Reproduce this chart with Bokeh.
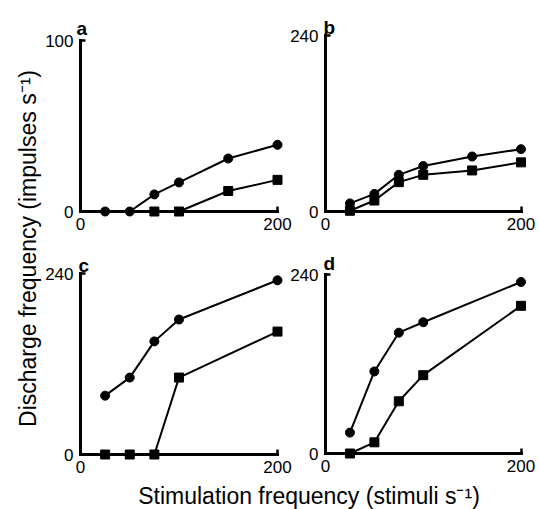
import math
from bokeh.plotting import figure
from bokeh.models import Range1d, LinearAxis, FixedTicker, Label
from bokeh.embed import file_html
from bokeh.resources import INLINE

# ---------------- data ----------------
panels = ["a", "b", "c", "d"]
y_tops = [100, 240, 240, 240]
x_ticks = [0, 200]

a_circle_x = [25, 50, 75, 100, 150, 200]
a_circle_y = [0, 0, 10, 17, 31, 39]
a_square_x = [75, 100, 150, 200]
a_square_y = [0, 0, 12, 18.5]

b_circle_x = [25, 50, 75, 100, 150, 200]
b_circle_y = [11, 24, 50, 62, 75, 85]
b_square_x = [25, 50, 75, 100, 150, 200]
b_square_y = [1, 15, 40, 50, 56, 67]

c_circle_x = [25, 50, 75, 100, 200]
c_circle_y = [78, 102, 150, 179, 231]
c_square_x = [25, 50, 75, 100, 200]
c_square_y = [0, 0, 0, 102, 163]

d_circle_x = [25, 50, 75, 100, 200]
d_circle_y = [28, 110, 162, 176, 230]
d_square_x = [25, 50, 75, 100, 200]
d_square_y = [0, 15, 70, 105, 198]

x_title = "Stimulation frequency (stimuli s\u207b\u00b9)"
y_title = "Discharge frequency (impulses s\u207b\u00b9)"

# ---------------- layout (page pixel positions) ----------------
W, H = 539, 509
PAGE_L, PAGE_T = 0, 0
PAGE_R, PAGE_B = PAGE_L + W, PAGE_T + H

# x mapping per column: (page px of x=0, page px of x=200)
col_px = {"left": (80, 277), "right": (325, 520.5)}
# y mapping per panel: (page px of y=0, page px of y=top)
row_px = {"a": (211, 40), "b": (211, 35), "c": (454, 273), "d": (453, 274)}
panel_col = {"a": "left", "b": "right", "c": "left", "d": "right"}
letter_off = {"a": (-4, 12), "b": (-2, 8), "c": (-2, 8), "d": (-2, 11)}

FONT = "Liberation Sans"


def xval(col, px):
    p0, p1 = col_px[col]
    return (px - p0) / (p1 - p0) * 200.0


def yval(name, px):
    top = y_tops[panels.index(name)]
    p0, p1 = row_px[name]
    return (px - p0) / (p1 - p0) * top


x_ranges = {c: Range1d(start=xval(c, PAGE_L), end=xval(c, PAGE_R)) for c in col_px}
y_ranges = {n: Range1d(start=yval(n, PAGE_B), end=yval(n, PAGE_T)) for n in panels}

p = figure(width=W, height=H, output_backend="svg", toolbar_location=None,
           x_axis_location=None, y_axis_location=None,
           x_range=Range1d(start=x_ranges["left"].start, end=x_ranges["left"].end),
           y_range=Range1d(start=y_ranges["a"].start, end=y_ranges["a"].end),
           min_border=0)
p.extra_x_ranges = x_ranges
p.extra_y_ranges = y_ranges
p.grid.visible = False
p.outline_line_color = None
p.background_fill_color = "white"
p.border_fill_color = "white"

series = {
    "a": (a_circle_x, a_circle_y, a_square_x, a_square_y),
    "b": (b_circle_x, b_circle_y, b_square_x, b_square_y),
    "c": (c_circle_x, c_circle_y, c_square_x, c_square_y),
    "d": (d_circle_x, d_circle_y, d_square_x, d_square_y),
}

for name, top in zip(panels, y_tops):
    xr = panel_col[name]
    yr = name
    cx, cy, sx, sy = series[name]

    yaxis = LinearAxis(x_range_name=xr, y_range_name=yr, fixed_location=0,
                       bounds=(0, top), ticker=FixedTicker(ticks=[0, top]))
    xaxis = LinearAxis(x_range_name=xr, y_range_name=yr, fixed_location=0,
                       bounds=(0, 200), ticker=FixedTicker(ticks=x_ticks))
    for ax in (yaxis, xaxis):
        ax.axis_line_width = 3
        ax.axis_line_color = "black"
        ax.axis_line_cap = "square"
        ax.major_tick_in = 5
        ax.major_tick_out = 0
        ax.major_tick_line_width = 2.5
        ax.major_tick_line_color = "black"
        ax.minor_tick_in = 0
        ax.minor_tick_out = 0
        ax.major_label_text_font = FONT
        ax.major_label_text_font_size = "17px"
        ax.major_label_text_color = "black"
    yaxis.major_label_standoff = 7
    xaxis.major_label_standoff = 6
    p.add_layout(yaxis, "left")
    p.add_layout(xaxis, "below")

    p.line(sx, sy, x_range_name=xr, y_range_name=yr, line_color="black", line_width=2)
    p.line(cx, cy, x_range_name=xr, y_range_name=yr, line_color="black", line_width=2)
    p.scatter(sx, sy, marker="square", size=9, x_range_name=xr, y_range_name=yr,
              fill_color="black", line_color="black")
    p.scatter(cx, cy, marker="circle", size=9, x_range_name=xr, y_range_name=yr,
              fill_color="black", line_color="black")

    ox, oy = letter_off[name]
    p.add_layout(Label(x=0, y=top, x_range_name=xr, y_range_name=yr, text=name,
                       x_offset=ox, y_offset=oy, text_align="left",
                       text_baseline="alphabetic", text_font=FONT,
                       text_font_style="bold", text_font_size="19px",
                       text_color="black"))

# axis titles
p.add_layout(Label(x=xval("left", 27), y=yval("c", 248), x_range_name="left", y_range_name="c",
                   text=y_title, angle=math.pi / 2, text_align="center",
                   text_baseline="alphabetic", text_font=FONT, text_font_size="23px",
                   text_color="black"))
p.add_layout(Label(x=xval("left", 308.5), y=yval("c", 495), x_range_name="left", y_range_name="c",
                   text=x_title, text_align="center", text_baseline="alphabetic",
                   text_font=FONT, text_font_size="23px", text_color="black"))

open("out.html", "w").write(file_html(p, INLINE))
